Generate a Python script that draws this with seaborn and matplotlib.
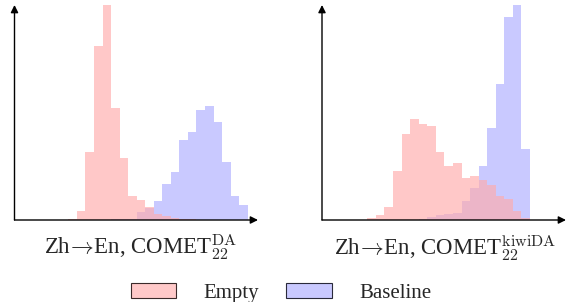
import numpy as np
import pandas as pd
import matplotlib
matplotlib.use("Agg")
import matplotlib.pyplot as plt
import seaborn as sns
from matplotlib.patches import Patch

# Zh->En, COMET22-DA: 21 bins, heights
da_range = (0.30, 0.93)
da_empty = [0.7, 9.3, 68, 174, 215, 112, 62, 24, 20, 13, 6, 4, 2.5, 1.5,
            0.6, 0.4, 0.3, 0.3, 0.2, 0.2, 0.0]
da_baseline = [0, 0, 0, 0, 0, 1.0, 1.5, 1.5, 8, 12, 19, 36, 48, 80,
               88, 110, 114, 98, 58, 24, 15]

# Zh->En, COMET22-kiwiDA: 19 bins
kiwi_range = (0.35, 0.92)
kiwi_empty = [1.7, 5, 13.3, 49, 86, 101, 96, 94, 68, 54, 57, 42, 44, 40,
              35, 24, 21, 9, 1.7]
kiwi_baseline = [0, 0, 0, 0, 0, 0, 1, 3, 5, 6, 7, 19, 32, 54, 92, 136,
                 203, 215, 71]

titles = [r"Zh$\!\to\!$En, COMET$_{22}^{\mathrm{DA}}$",
          r"Zh$\!\to\!$En, COMET$_{22}^{\mathrm{kiwiDA}}$"]
labels = ["Empty", "Baseline"]

# pink is drawn over opaque lavender, so the overlap stays light
PINK = (1.0, 0.67, 0.67)
PINK_ALPHA = 0.65
LAVENDER = (0.79, 0.79, 1.0)

sns.set_style("white")
plt.rcParams["font.family"] = ["Liberation Serif", "DejaVu Serif"]
plt.rcParams["mathtext.fontset"] = "cm"

fig = plt.figure(figsize=(5.71, 3.02), dpi=100)

panels = [
    (da_range, da_empty, da_baseline, (-6.3, 22.2), [14.5 / 571, 82 / 302, 243.5 / 571, 215 / 302]),
    (kiwi_range, kiwi_empty, kiwi_baseline, (-5.3, 23.2), [322 / 571, 82 / 302, 244 / 571, 215 / 302]),
]

for rng, empty, baseline, (lo, hi), rect in panels:
    ax = fig.add_axes(rect)
    n = len(empty)
    w = (rng[1] - rng[0]) / n
    centers = rng[0] + w * (np.arange(n) + 0.5)
    df = pd.DataFrame({"score": centers, "empty": empty, "baseline": baseline})
    sns.histplot(data=df, x="score", weights="baseline", bins=n, binrange=rng,
                 ax=ax, color=LAVENDER, alpha=1.0, linewidth=0)
    sns.histplot(data=df, x="score", weights="empty", bins=n, binrange=rng,
                 ax=ax, color=PINK, alpha=PINK_ALPHA, linewidth=0)
    ax.set_xlim(rng[0] + lo * w, rng[0] + hi * w)
    ax.set_ylim(0, max(max(empty), max(baseline)))
    ax.set_xticks([])
    ax.set_yticks([])
    ax.set_xlabel("")
    ax.set_ylabel("")
    sns.despine(ax=ax, left=True, bottom=True)
    arrow = dict(arrowstyle="-|>", color="black", lw=1.0, mutation_scale=11,
                 shrinkA=0, shrinkB=0)
    ax.annotate("", xy=(1, 0), xytext=(0, 0), xycoords="axes fraction",
                arrowprops=arrow, annotation_clip=False)
    ax.annotate("", xy=(0, 1), xytext=(0, 0), xycoords="axes fraction",
                arrowprops=arrow, annotation_clip=False)

fig.text(141 / 571, 47 / 302, titles[0], ha="center", va="baseline", fontsize=16.5)
fig.text(445 / 571, 47 / 302, titles[1], ha="center", va="baseline", fontsize=16.5)

handles = [Patch(facecolor=(1, 0.79, 0.79), edgecolor="#3a2a2a", linewidth=0.8),
           Patch(facecolor=LAVENDER, edgecolor="#2a2a3a", linewidth=0.8)]
fig.legend(handles, labels, loc="center", bbox_to_anchor=(0.492, 9 / 302),
           ncol=2, frameon=False, fontsize=15, handlelength=2.2,
           handleheight=0.7, handletextpad=1.3, columnspacing=1.3,
           borderpad=0, borderaxespad=0)

fig.savefig("out.png", dpi=100)
